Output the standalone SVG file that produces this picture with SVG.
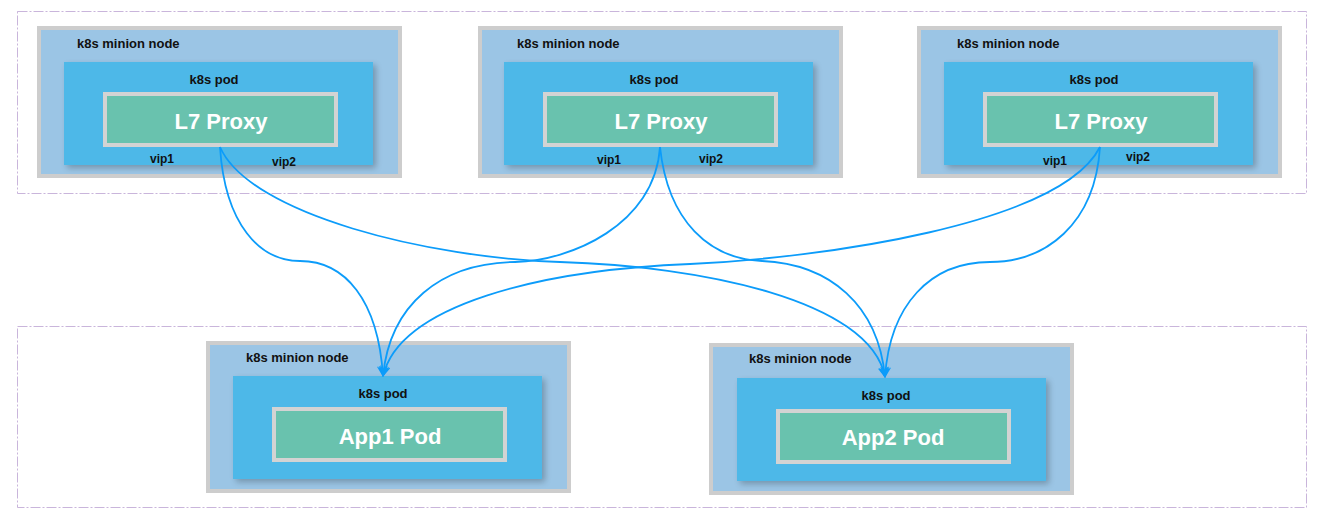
<svg xmlns="http://www.w3.org/2000/svg" width="1325" height="523" viewBox="0 0 1325 523">
<style>
.frame{fill:none;stroke:#C9B5DB;stroke-width:1;stroke-dasharray:10 2 2 2}
.minion{fill:#9BC5E5;stroke:#CDCDCD;stroke-width:4}
.pod{fill:#4DB8E8}
.app{fill:#69C2AE;stroke:#D3D3D3;stroke-width:4}
.lbl{font-family:"Liberation Sans",Arial,sans-serif;font-weight:bold;font-size:13px;fill:#111}
.big{font-family:"Liberation Sans",Arial,sans-serif;font-weight:bold;font-size:22px;fill:#fff;text-anchor:middle}
.mid{text-anchor:middle}
.vip{font-family:"Liberation Sans",Arial,sans-serif;font-weight:bold;font-size:12px;fill:#111}
.conn{fill:none;stroke:#0C9CFA;stroke-width:1.8}
</style>
<defs>
<filter id="sh" x="-5%" y="-5%" width="115%" height="120%">
<feGaussianBlur in="SourceAlpha" stdDeviation="3"/>
<feOffset dx="3" dy="3"/>
<feComponentTransfer><feFuncA type="linear" slope="0.25"/></feComponentTransfer>
<feMerge><feMergeNode/><feMergeNode in="SourceGraphic"/></feMerge>
</filter>
<marker id="arr" viewBox="0 0 10 10" refX="9" refY="5" markerWidth="11" markerHeight="11" markerUnits="userSpaceOnUse" orient="auto">
<path d="M0,0 L10,5 L0,10 L3,5 Z" fill="#0C9CFA"/>
</marker>
</defs>
<rect class="frame" x="17.5" y="11.5" width="1289" height="182"/>
<rect class="frame" x="17.5" y="326.5" width="1289" height="181"/>

<g id="node1">
<rect class="minion" x="39" y="28" width="361" height="148"/>
<rect class="pod" x="64" y="62" width="309" height="103" filter="url(#sh)"/>
<rect class="app" x="105" y="94" width="231" height="51"/>
<text class="lbl" x="77" y="48">k8s minion node</text>
<text class="lbl mid" x="214" y="84">k8s pod</text>
<text class="big" x="221" y="129">L7 Proxy</text>
<text class="vip" x="150" y="163">vip1</text>
<text class="vip" x="272" y="166">vip2</text>
</g>

<g id="node2">
<rect class="minion" x="480" y="28" width="361" height="148"/>
<rect class="pod" x="504" y="62" width="309" height="103" filter="url(#sh)"/>
<rect class="app" x="545" y="94" width="231" height="51"/>
<text class="lbl" x="517" y="48">k8s minion node</text>
<text class="lbl mid" x="654" y="84">k8s pod</text>
<text class="big" x="661" y="129">L7 Proxy</text>
<text class="vip" x="597" y="164">vip1</text>
<text class="vip" x="699" y="163">vip2</text>
</g>

<g id="node3">
<rect class="minion" x="919" y="28" width="361" height="148"/>
<rect class="pod" x="944" y="62" width="309" height="103" filter="url(#sh)"/>
<rect class="app" x="985" y="94" width="231" height="51"/>
<text class="lbl" x="957" y="48">k8s minion node</text>
<text class="lbl mid" x="1094" y="84">k8s pod</text>
<text class="big" x="1101" y="129">L7 Proxy</text>
<text class="vip" x="1043" y="165">vip1</text>
<text class="vip" x="1126" y="161">vip2</text>
</g>

<g id="app1">
<rect class="minion" x="208" y="343" width="361" height="148"/>
<rect class="pod" x="233" y="376" width="309" height="103" filter="url(#sh)"/>
<rect class="app" x="274" y="409" width="231" height="51"/>
<text class="lbl" x="246" y="362">k8s minion node</text>
<text class="lbl mid" x="383" y="398">k8s pod</text>
<text class="big" x="390" y="444">App1 Pod</text>
</g>

<g id="app2">
<rect class="minion" x="711" y="345" width="361" height="148"/>
<rect class="pod" x="737" y="378" width="309" height="103" filter="url(#sh)"/>
<rect class="app" x="778" y="411" width="231" height="51"/>
<text class="lbl" x="749" y="363">k8s minion node</text>
<text class="lbl mid" x="886" y="400">k8s pod</text>
<text class="big" x="893" y="445">App2 Pod</text>
</g>

<g id="connectors">
<path class="conn" marker-end="url(#arr)" d="M220,147 C225,225 260,261 300,261 C345,261 378,300 383,376"/>
<path class="conn" marker-end="url(#arr)" d="M220,147 C250,215 430,258 560,262 C700,266 870,300 885,377"/>
<path class="conn" marker-end="url(#arr)" d="M660,147 C655,225 570,261 515,262 C440,263 390,305 383,376"/>
<path class="conn" marker-end="url(#arr)" d="M660,147 C668,222 710,259 762,261 C830,264 878,305 885,377"/>
<path class="conn" marker-end="url(#arr)" d="M1100,147 C1060,225 820,258 690,264 C540,270 400,305 383,376"/>
<path class="conn" marker-end="url(#arr)" d="M1100,147 C1095,225 1045,262 990,262 C930,262 890,305 885,377"/>
</g>
</svg>
